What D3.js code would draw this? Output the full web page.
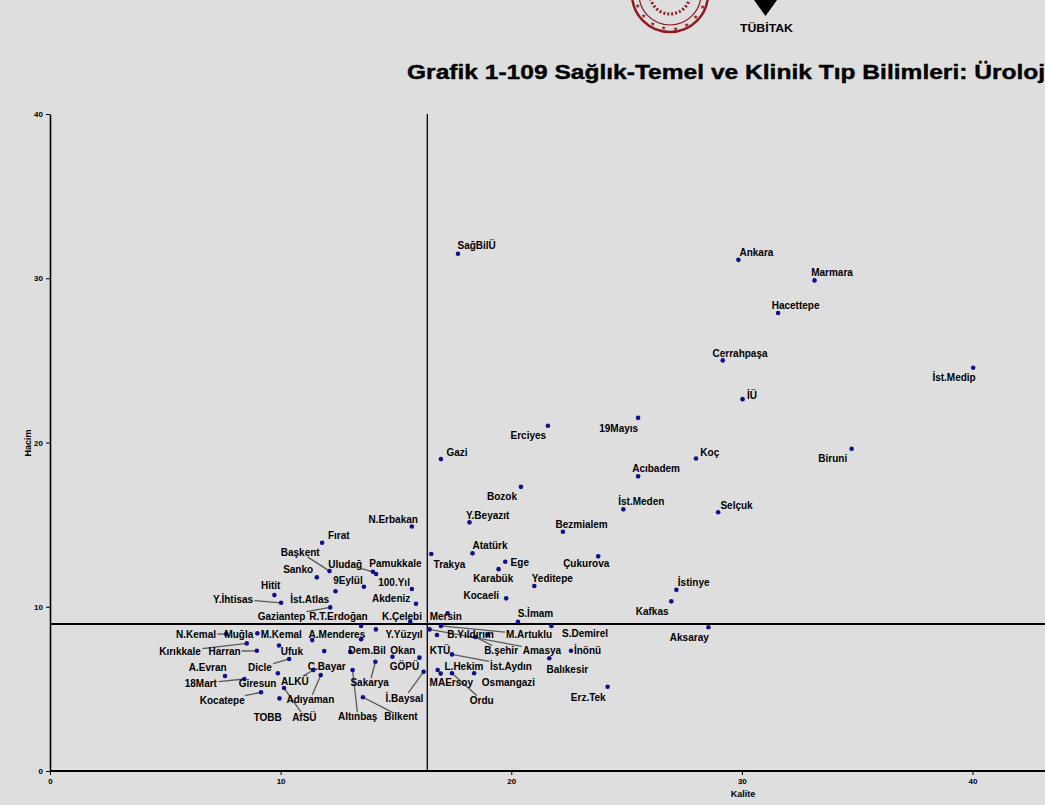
<!DOCTYPE html>
<html lang="tr">
<head>
<meta charset="UTF-8">
<title>Grafik 1-109 Üroloji</title>
<script src="https://d3js.org/d3.v7.min.js"></script>
<style>
  body { margin: 0; background: #dedede; font-family: "Liberation Sans", Arial, sans-serif; }
  svg { display: block; }
  .lbl { font-size: 10px; font-weight: bold; fill: #000; }
  .axis text { font-size: 8px; font-weight: bold; fill: #000; }
</style>
</head>
<body>
<script>
// universities, quality (x) and volume (y)
const names = ["SağBilÜ","Ankara","Marmara","Hacettepe","Cerrahpaşa","İst.Medip","İÜ","19Mayıs","Erciyes","Gazi",
  "Koç","Biruni","Acıbadem","Bozok","İst.Meden","Selçuk","Y.Beyazıt","N.Erbakan","Bezmialem","Çukurova",
  "İstinye","Kafkas","Aksaray","Trakya","Atatürk","Ege","Karabük","Yeditepe","Kocaeli","Mersin",
  "S.İmam","Amasya","KTÜ","M.Artuklu","B.Yıldırım","B.şehir","S.Demirel","İnönü","İst.Aydın","L.Hekim",
  "Balıkesir","MAErsoy","Osmangazi","Ordu","Erz.Tek","Fırat","Başkent","Uludağ","Pamukkale","Sanko",
  "9Eylül","100.Yıl","Hitit","İst.Atlas","Akdeniz","Y.İhtisas","Gaziantep","R.T.Erdoğan","K.Çelebi","N.Kemal",
  "Muğla","M.Kemal","A.Menderes","Y.Yüzyıl","Kırıkkale","Harran","Ufuk","C.Bayar","Dem.Bil","Okan",
  "GÖPÜ","A.Evran","Dicle","Sakarya","18Mart","Giresun","ALKÜ","Kocatepe","Adıyaman","İ.Baysal",
  "TOBB","AfSÜ","Altınbaş","Bilkent"];
const kalite = [17.69,29.85,33.15,31.57,29.17,40.03,30.03,25.50,21.59,16.95,
  28.01,34.76,25.50,20.42,24.86,28.97,18.19,15.69,22.24,23.77,
  27.16,26.94,28.55,16.53,18.32,19.74,19.45,21.00,19.78,17.24,
  20.29,16.46,16.78,16.95,18.97,18.44,21.74,22.59,17.43,16.94,
  21.65,16.81,18.39,17.43,24.18,11.80,12.12,14.00,14.14,11.57,
  13.61,15.69,9.73,12.38,15.87,10.02,12.15,13.49,15.62,7.64,
  8.99,11.37,13.49,14.13,8.53,8.97,9.93,11.89,13.02,16.02,
  14.85,7.59,10.37,14.11,8.43,9.88,11.42,9.15,11.74,16.20,
  9.95,10.15,13.12,13.57];
const hacim = [31.49,31.12,29.87,27.88,25.00,24.55,22.64,21.50,21.02,18.99,
  19.03,19.62,17.94,17.30,15.93,15.75,15.14,14.89,14.57,13.07,
  11.03,10.33,8.75,13.21,13.25,12.74,12.29,11.26,10.51,9.60,
  9.09,8.62,8.28,8.83,8.28,8.16,8.83,7.32,7.10,5.93,
  6.86,6.15,5.95,5.95,5.13,13.90,12.17,12.13,11.99,11.79,
  11.22,11.08,10.71,10.94,10.18,10.24,9.96,8.83,9.09,8.34,
  8.38,7.97,8.02,8.62,7.77,7.32,7.64,7.30,7.26,6.90,
  6.96,5.78,6.82,6.65,5.60,5.95,6.15,4.79,5.84,6.04,
  4.42,5.05,6.15,4.49];
// where each label sits (data units, as placed in the picture)
const labelKalite = [18.50,30.63,33.91,32.33,29.92,39.20,30.44,24.66,20.74,17.65,
  28.61,33.94,26.28,19.60,25.64,29.77,18.98,14.88,23.05,23.25,
  27.91,26.11,27.72,17.32,19.08,20.37,19.22,21.78,18.70,17.16,
  21.05,21.33,16.91,20.77,18.24,19.56,23.20,23.31,19.99,17.95,
  22.43,17.40,19.88,18.72,23.34,12.52,10.85,12.80,14.98,10.76,
  12.92,14.92,9.57,11.26,14.79,7.94,10.04,12.51,15.26,6.33,
  8.19,10.03,12.44,15.35,5.64,7.57,10.49,12.00,13.75,15.30,
  15.37,6.84,9.10,13.86,6.54,9.00,10.62,7.47,11.29,15.37,
  9.44,11.03,13.34,15.22];
const labelHacim = [32.01,31.55,30.33,28.34,25.44,23.94,22.84,20.88,20.41,19.42,
  19.37,19.01,18.40,16.70,16.39,16.19,15.58,15.34,15.03,12.66,
  11.50,9.74,8.11,12.60,13.71,12.68,11.69,11.69,10.67,9.40,
  9.60,7.36,7.35,8.32,8.32,7.36,8.38,7.36,6.39,6.39,
  6.21,5.37,5.37,4.32,4.49,14.36,13.31,12.60,12.64,12.29,
  11.61,11.50,11.32,10.45,10.49,10.45,9.43,9.39,9.43,8.32,
  8.32,8.32,8.32,8.32,7.29,7.29,7.30,6.35,7.35,7.36,
  6.35,6.31,6.31,5.37,5.34,5.34,5.46,4.32,4.36,4.42,
  3.27,3.27,3.30,3.30];
const withSegment = ["Amasya","M.Artuklu","B.şehir","İst.Aydın","Ordu","Başkent","Uludağ","Y.İhtisas",
  "Gaziantep","N.Kemal","Kırıkkale","Harran","Dicle","Sakarya","18Mart","ALKÜ","Kocatepe","Adıyaman",
  "İ.Baysal","AfSÜ","Altınbaş","Bilkent"];
const xTicks = [0, 10, 20, 30, 40];
const yTicks = [0, 10, 20, 30, 40];
const meanKalite = 16.36;
const meanHacim = 8.95;

const W = 1045, H = 805;
const plot = {left: 50, right: 1045, top: 114, bottom: 771};

const svg = d3.select("body").append("svg")
    .attr("width", W)
    .attr("height", H);

// scales (plot is cropped on the right in the picture)
const x = d3.scaleLinear().domain([0, 40]).range([plot.left, 972.5]);
const y = d3.scaleLinear().domain([0, 40]).range([plot.bottom, plot.top]);

// logos
const seal = svg.append("g").attr("transform", "translate(670,-6)");
seal.append("circle").attr("r", 38).attr("fill", "none").attr("stroke", "#8e1b1f").attr("stroke-width", 2.5);
seal.append("circle").attr("r", 31).attr("fill", "none").attr("stroke", "#8e1b1f").attr("stroke-width", 1.2);
seal.append("circle").attr("r", 20).attr("fill", "none").attr("stroke", "#8e1b1f").attr("stroke-width", 3).attr("stroke-dasharray", "2 2");
d3.range(8).forEach(i => {
    const a = Math.PI * (0.12 + i * 0.11);
    seal.append("text")
        .attr("x", 34.5 * Math.cos(a)).attr("y", 34.5 * Math.sin(a) + 2.5)
        .attr("text-anchor", "middle")
        .style("font-size", "6px").style("fill", "#8e1b1f")
        .text("★");
});
svg.append("path").attr("d", "M754,0 L777,0 L765.5,16 Z").attr("fill", "#000");
svg.append("text")
    .attr("x", 740).attr("y", 32)
    .style("font-size", "11px").style("font-weight", "bold")
    .attr("textLength", 53).attr("lengthAdjust", "spacingAndGlyphs")
    .text("TÜBİTAK");

// title (runs off the right edge in the picture)
svg.append("text")
    .attr("x", 407).attr("y", 79)
    .style("font-size", "21px").style("font-weight", "bold")
    .style("stroke", "#000").style("stroke-width", 0.4)
    .attr("textLength", 645).attr("lengthAdjust", "spacingAndGlyphs")
    .text("Grafik 1-109 Sağlık-Temel ve Klinik Tıp Bilimleri: Üroloji");

// axes
const xAxis = svg.append("g").attr("class", "axis")
    .attr("transform", `translate(0,${plot.bottom})`)
    .call(d3.axisBottom(x).tickValues(xTicks).tickSize(4).tickSizeOuter(0));
xAxis.select(".domain").remove();
xAxis.append("line")
    .attr("x1", plot.left).attr("x2", plot.right)
    .attr("stroke", "#000").attr("stroke-width", 2.2);

const yAxis = svg.append("g").attr("class", "axis")
    .attr("transform", `translate(${plot.left},0)`)
    .call(d3.axisLeft(y).tickValues(yTicks).tickSize(4).tickSizeOuter(0));
yAxis.select(".domain").attr("stroke-width", 1.6);

svg.append("text")
    .attr("x", 743).attr("y", 797)
    .attr("text-anchor", "middle")
    .style("font-size", "9px").style("font-weight", "bold")
    .text("Kalite");
svg.append("text")
    .attr("transform", "translate(31,443) rotate(-90)")
    .attr("text-anchor", "middle")
    .style("font-size", "9px").style("font-weight", "bold")
    .text("Hacim");

// mean lines
svg.append("line")
    .attr("x1", x(meanKalite)).attr("x2", x(meanKalite))
    .attr("y1", y(40)).attr("y2", y(0))
    .attr("stroke", "#000").attr("stroke-width", 1.3);
svg.append("line")
    .attr("x1", plot.left).attr("x2", plot.right)
    .attr("y1", y(meanHacim)).attr("y2", y(meanHacim))
    .attr("stroke", "#000").attr("stroke-width", 2);

const data = names.map((n, i) => ({
    name: n, kx: kalite[i], hy: hacim[i], lx: labelKalite[i], ly: labelHacim[i]
}));

const segLayer = svg.append("g");
const pointLayer = svg.append("g");
const labelLayer = svg.append("g");

pointLayer.selectAll("circle")
    .data(data).enter().append("circle")
    .attr("cx", d => x(d.kx))
    .attr("cy", d => y(d.hy))
    .attr("r", 2.3)
    .attr("fill", "#10108c");

const labels = labelLayer.selectAll("text")
    .data(data).enter().append("text")
    .attr("class", "lbl")
    .attr("x", d => x(d.lx))
    .attr("y", d => y(d.ly))
    .attr("text-anchor", "middle")
    .attr("dominant-baseline", "central")
    .text(d => d.name);

// segments from label box edge to point, like ggrepel
labels.each(function(d) {
    if (!withSegment.includes(d.name)) return;
    const b = this.getBBox();
    const cx = b.x + b.width / 2, cy = b.y + b.height / 2;
    const px = x(d.kx), py = y(d.hy);
    const dx = px - cx, dy = py - cy;
    const hw = b.width / 2 + 1, hh = b.height / 2 - 1;
    const t = Math.min(dx !== 0 ? hw / Math.abs(dx) : Infinity, dy !== 0 ? hh / Math.abs(dy) : Infinity);
    if (t >= 1) return;
    segLayer.append("line")
        .attr("x1", cx + t * dx).attr("y1", cy + t * dy)
        .attr("x2", px).attr("y2", py)
        .attr("stroke", "#595959").attr("stroke-width", 1.3);
});
</script>
</body>
</html>
